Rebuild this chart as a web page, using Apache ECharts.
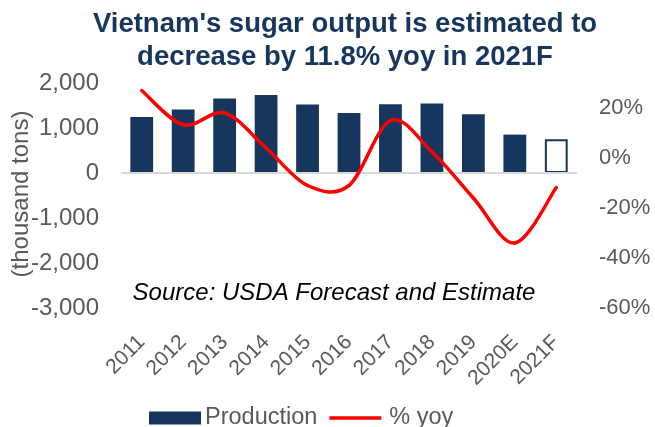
<!DOCTYPE html>
<html>
<head>
<meta charset="utf-8">
<script src="https://cdn.jsdelivr.net/npm/echarts@6/dist/echarts.min.js"></script>
<style>
  html, body { margin: 0; padding: 0; background: #ffffff; }
  #chart { width: 655px; height: 427px; }
</style>
</head>
<body>
<div id="chart"></div>
<script>
// Vietnam sugar production (thousand tons) and year-on-year change (%)
const years = ['2011', '2012', '2013', '2014', '2015', '2016', '2017', '2018', '2019', '2020E', '2021F'];
const production = [1245, 1410, 1653, 1733, 1520, 1333, 1527, 1542, 1304, 853, 752];
const yoyPct = [27, 13.3, 18, 4, -11, -11, 15, 2.5, -16, -34, -11.8];
const leftTicks = { min: -3000, max: 2000, interval: 1000 };
const rightTicks = { min: -60, max: 30, interval: 20 };

const FONT = '"Liberation Sans", Arial, sans-serif';
const NAVY = '#17365d';
const GREY = '#595959';
const RED = '#ff0000';

const chart = echarts.init(document.getElementById('chart'), null, { renderer: 'canvas' });

// Last year is a forecast: drawn hollow
const barData = production.map((v, i) => i === production.length - 1
  ? { value: v, itemStyle: { color: '#ffffff', borderColor: NAVY, borderWidth: 2 } }
  : v);

// Smooth yoy curve: one cubic segment per pair of years, Catmull-Rom tangents
function renderYoySegment(params, api) {
  const i = params.dataIndex;
  const n = yoyPct.length;
  if (i >= n - 1) return null;
  const pt = k => {
    const j = Math.max(0, Math.min(n - 1, k));
    return api.coord([j, yoyPct[j]]);
  };
  const p0 = pt(i - 1), p1 = pt(i), p2 = pt(i + 1), p3 = pt(i + 2);
  return {
    type: 'bezierCurve',
    shape: {
      x1: p1[0], y1: p1[1],
      x2: p2[0], y2: p2[1],
      cpx1: p1[0] + (p2[0] - p0[0]) / 6,
      cpy1: p1[1] + (p2[1] - p0[1]) / 6,
      cpx2: p2[0] - (p3[0] - p1[0]) / 6,
      cpy2: p2[1] - (p3[1] - p1[1]) / 6
    },
    style: { stroke: RED, lineWidth: 3.5, fill: 'none', lineCap: 'round', lineJoin: 'round' },
    z2: 10
  };
}

chart.setOption({
  animation: false,
  backgroundColor: '#ffffff',
  title: {
    text: "Vietnam's sugar output is estimated to\ndecrease by 11.8% yoy in 2021F",
    left: 340,
    top: 3,
    textAlign: 'center',
    textStyle: { fontFamily: FONT, fontSize: 27.5, fontWeight: 'bold', color: NAVY, lineHeight: 33 }
  },
  grid: { left: 121, right: 78, top: 83, bottom: 119, containLabel: false },
  legend: {
    left: 149,
    top: 406,
    padding: 0,
    itemWidth: 52,
    itemHeight: 13,
    itemGap: 12,
    textStyle: { fontFamily: FONT, fontSize: 23.5, color: GREY, padding: [0, 0, 0, -1] },
    data: [
      { name: 'Production', icon: 'rect' },
      { name: '% yoy', icon: 'path://M0,0 L52,0 L52,3.5 L0,3.5 Z', textStyle: { padding: [0, 0, 0, 3] } }
    ]
  },
  xAxis: {
    type: 'category',
    data: years,
    axisLine: { show: false },
    axisTick: { show: false },
    axisLabel: {
      rotate: 45,
      margin: 31,
      interval: 0,
      fontFamily: FONT,
      fontSize: 21,
      color: GREY
    }
  },
  yAxis: [
    {
      type: 'value',
      min: leftTicks.min,
      max: leftTicks.max,
      interval: leftTicks.interval,
      splitLine: { show: false },
      axisLine: { show: false },
      axisTick: { show: false },
      axisLabel: {
        margin: 22,
        fontFamily: FONT,
        fontSize: 24,
        color: GREY,
        formatter: v => v.toLocaleString('en-US')
      }
    },
    {
      type: 'value',
      min: rightTicks.min,
      max: rightTicks.max,
      interval: rightTicks.interval,
      splitLine: { show: false },
      axisLine: { show: false },
      axisTick: { show: false },
      axisLabel: {
        margin: 22,
        fontFamily: FONT,
        fontSize: 22,
        color: GREY,
        formatter: v => (v > 20 ? '' : v + '%')
      }
    }
  ],
  graphic: [
    {
      type: 'text',
      x: 21,
      y: 194,
      rotation: Math.PI / 2,
      style: {
        text: '(thousand tons)',
        font: '24px ' + FONT,
        fill: GREY,
        textAlign: 'center',
        textVerticalAlign: 'middle'
      }
    },
    {
      type: 'text',
      x: 334,
      y: 293,
      style: {
        text: 'Source: USDA Forecast and Estimate',
        font: 'italic 24px ' + FONT,
        fill: '#000000',
        textAlign: 'center',
        textVerticalAlign: 'middle'
      }
    }
  ],
  series: [
    {
      name: 'Production',
      type: 'bar',
      yAxisIndex: 0,
      barWidth: '55%',
      itemStyle: { color: NAVY },
      data: barData,
      markLine: {
        silent: true,
        symbol: 'none',
        label: { show: false },
        lineStyle: { color: '#d9d9d9', width: 2, type: 'solid' },
        data: [{ yAxis: 0 }]
      }
    },
    {
      name: '% yoy',
      type: 'custom',
      yAxisIndex: 1,
      renderItem: renderYoySegment,
      itemStyle: { color: RED },
      encode: { x: 0, y: 1 },
      data: yoyPct.map((v, i) => [i, v]),
      clip: false,
      z: 5
    }
  ]
});
</script>
</body>
</html>
